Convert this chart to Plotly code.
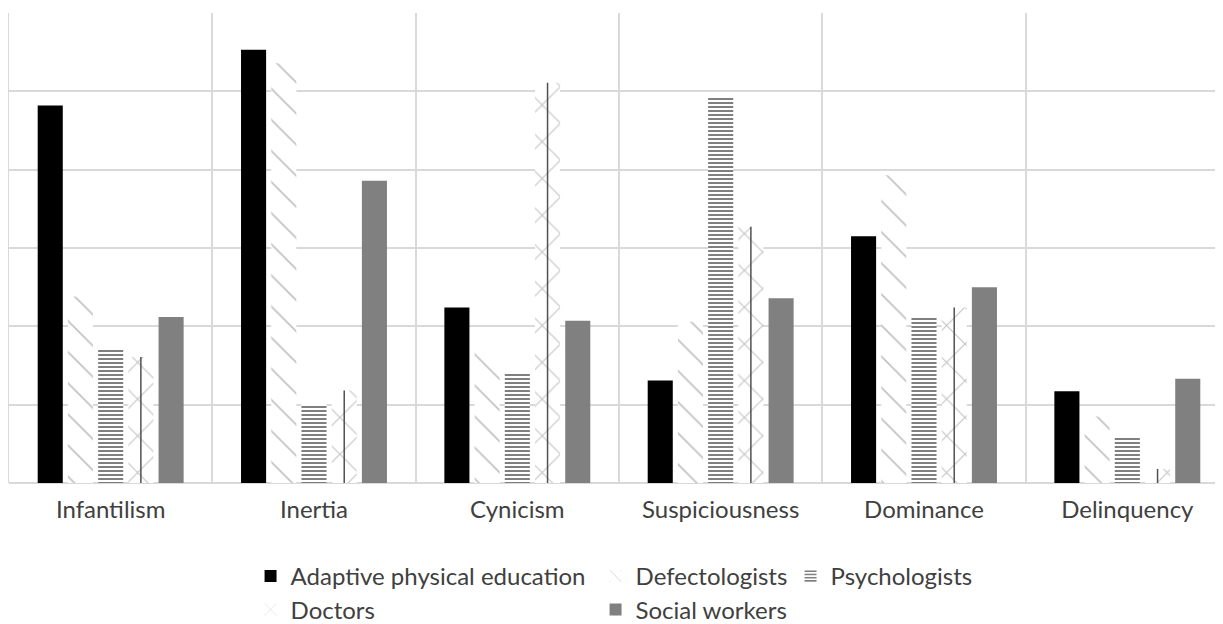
import plotly.graph_objects as go

categories = ["Infantilism", "Inertia", "Cynicism", "Suspiciousness", "Dominance", "Delinquency"]
adaptive_pe = [4.82, 5.53, 2.24, 1.31, 3.15, 1.17]
defectologists = [2.38, 5.36, 1.68, 2.06, 3.93, 0.85]
psychologists = [1.70, 1.01, 1.39, 4.93, 2.12, 0.60]
doctors = [1.61, 1.18, 5.11, 3.27, 2.24, 0.18]
social_workers = [2.12, 3.86, 2.07, 2.36, 2.50, 1.33]

FONT = "Lato"
TXT = "#404040"
FS = 24

fig = go.Figure()
fig.add_trace(go.Bar(
    name="Adaptive physical education", x=categories, y=adaptive_pe,
    marker=dict(color="#000000", line=dict(width=0)),
    legend="legend", legendwidth=300,
))
fig.add_trace(go.Bar(
    name="Defectologists", x=categories, y=defectologists,
    marker=dict(color="#ffffff", line=dict(width=0),
                pattern=dict(shape="\\", fgcolor="#858585", bgcolor="#ffffff",
                             size=22, solidity=0.08, fillmode="overlay")),
    legend="legend", legendwidth=150,
))
fig.add_trace(go.Bar(
    name="Psychologists", x=categories, y=psychologists,
    marker=dict(color="#ffffff", line=dict(width=0),
                pattern=dict(shape="-", fgcolor="#000000", bgcolor="#ffffff",
                             size=4, solidity=0.5, fillmode="overlay")),
    legend="legend",
))
fig.add_trace(go.Bar(
    name="Doctors", x=categories, y=doctors,
    marker=dict(color="#ffffff", line=dict(width=0),
                pattern=dict(shape="x", fgcolor="#8c8c8c", bgcolor="#ffffff",
                             size=26, solidity=0.09, fillmode="overlay")),
    error_y=dict(type="data", symmetric=False, array=[0] * len(doctors),
                 arrayminus=doctors, width=0, thickness=1.5, color="#505050"),
    legend="legend2", legendwidth=300,
))
fig.add_trace(go.Bar(
    name="Social workers", x=categories, y=social_workers,
    marker=dict(color="#808080", line=dict(width=0)),
    legend="legend2",
))

fig.update_layout(
    width=1223, height=616,
    margin=dict(l=1, r=2, t=5, b=141, autoexpand=False),
    paper_bgcolor="white", plot_bgcolor="white",
    barmode="group", bargap=0.257, bargroupgap=0.17,
    font=dict(family=FONT, size=FS, color=TXT),
    legend=dict(orientation="h", x=0.198, xanchor="left", y=-0.151, yanchor="top",
                font=dict(family=FONT, size=FS, color=TXT), bgcolor="rgba(0,0,0,0)",
                traceorder="normal"),
    legend2=dict(orientation="h", x=0.198, xanchor="left", y=-0.222, yanchor="top",
                 font=dict(family=FONT, size=FS, color=TXT), bgcolor="rgba(0,0,0,0)",
                 traceorder="normal"),
    showlegend=True,
)
fig.update_xaxes(
    type="category", tickson="boundaries", showgrid=True, gridcolor="#d9d9d9", gridwidth=1.5,
    ticks="", showline=False, tickfont=dict(family=FONT, size=FS, color=TXT),
    ticklabelstandoff=10,
)
fig.update_yaxes(
    range=[0, 6], dtick=1, showgrid=True, gridcolor="#d9d9d9", gridwidth=1.5,
    showticklabels=False, zeroline=True, zerolinecolor="#d9d9d9", zerolinewidth=1.5,
    showline=True, linecolor="#d9d9d9", linewidth=1.5, mirror=True, ticks="",
)

fig.write_html("out.html")
